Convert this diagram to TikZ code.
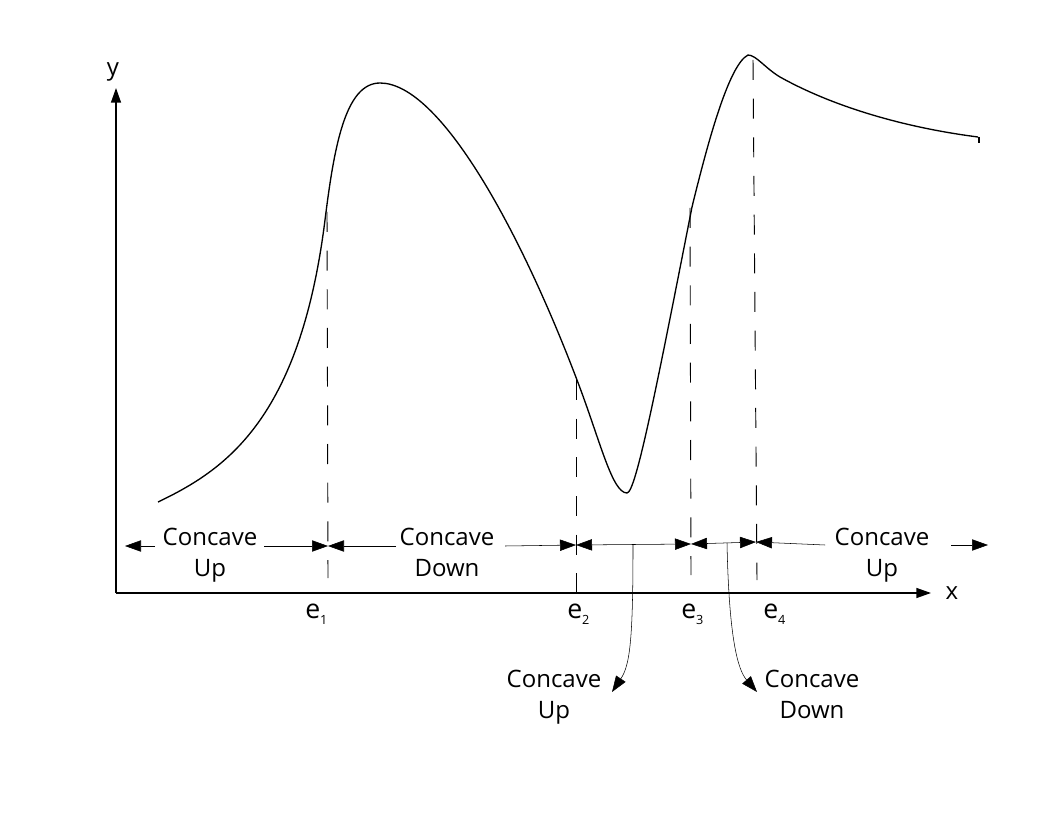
\documentclass[tikz,border=0pt]{standalone}
\usepackage{fontspec}
\setmainfont{Open Sans}
\usetikzlibrary{arrows.meta}

\newcommand\esub[1]{\raisebox{-4.5pt}{\fontsize{9.5}{10}\selectfont #1}}

\begin{document}
\begin{tikzpicture}[x=0.75pt,y=-0.75pt,
  tip/.style={-{Triangle[length=12pt,width=8.5pt]}},
  both/.style={{Triangle[length=12pt,width=8.5pt]}-{Triangle[length=12pt,width=8.5pt]}},
  guide/.style={line width=0.7pt,dash pattern=on 15pt off 14pt},
  lbl/.style={align=center,inner sep=0pt,anchor=north,font=\fontsize{18}{23.5}\selectfont},
  elab/.style={inner sep=0pt,anchor=base west,font=\fontsize{20}{24}\selectfont}]
\useasboundingbox (0,0) rectangle (1056,816);
% axes
\coordinate (O) at (116,593);
\coordinate (ytop) at (116,88);
\coordinate (xend) at (931,593);
\draw[-{Triangle[length=11pt,width=7.5pt]},line width=1pt] (O) -- (ytop);
\draw[-{Triangle[length=11pt,width=7.5pt]},line width=1pt] (O) -- (xend);
\node[lbl,anchor=base] (ylab) at (113,76) {y};
\node[lbl,anchor=base] (xlab) at (952,599) {x};
% the function
\draw[line width=1pt] (158,502) .. controls (225,470) and (300,420) .. (325,220)
  .. controls (334,148) and (345,83) .. (380,83)
  .. controls (440,83) and (520,230) .. (577,380)
  .. controls (600,440) and (612,493) .. (627,493)
  .. controls (636,493) and (658,380) .. (692,207)
  .. controls (706,150) and (728,65) .. (748,55)
  .. controls (756,55) and (765,68) .. (780,77)
  .. controls (830,105) and (900,127) .. (978,137);
\draw[line width=1pt] (979,137) -- (979,143);
% inflection lines
\draw[guide] (327,212) -- (328,578);
\draw[guide] (576,380) -- (576,592);
\draw[guide] (690,208) -- (691,575);
\draw[guide] (753,60) -- (757,580);
\node[elab] (l1) at (305,618) {e\esub{1}};
\node[elab] (l2) at (567,618) {e\esub{2}};
\node[elab] (l3) at (681,618) {e\esub{3}};
\node[elab] (l4) at (763,618) {e\esub{4}};
% intervals
\coordinate (e1) at (328,546);
\coordinate (e2) at (576,545);
\coordinate (e3) at (691,544);
\coordinate (e4) at (756,542);
\coordinate (a0) at (125,546);
\coordinate (a0s) at (155,546);
\coordinate (a1s) at (264,546);
\coordinate (a2e) at (396,546);
\coordinate (a3s) at (505,546);
\coordinate (a4e) at (825,545);
\coordinate (a5s) at (951,545);
\coordinate (a5e) at (988,545);
\draw[tip] (a0s) -- (a0);
\draw[tip] (a1s) -- (e1);
\draw[tip] (a2e) -- (e1);
\draw[tip] (a3s) -- (e2);
\draw[both] (e2) -- (e3);
\draw[both] (e3) -- (e4);
\draw[tip] (a4e) -- (e4);
\draw[tip] (a5s) -- (a5e);
\node[lbl] (cu1) at (210,528) {Concave\\Up};
\node[lbl] (cd1) at (447,528) {Concave\\Down};
\node[lbl] (cu2) at (882,528) {Concave\\Up};
% callouts below
\node[lbl] (cu3) at (554,670) {Concave\\Up};
\node[lbl] (cd2) at (812,670) {Concave\\Down};
\coordinate (m23) at (633,545);
\coordinate (m34) at (727,543);
\coordinate (cu3tip) at (612,692);
\coordinate (cd2tip) at (757,692);
\draw[tip] (m23) .. controls (633,640) and (630,665) .. (cu3tip);
\draw[tip] (m34) .. controls (729,640) and (738,670) .. (cd2tip);
\end{tikzpicture}
\end{document}
